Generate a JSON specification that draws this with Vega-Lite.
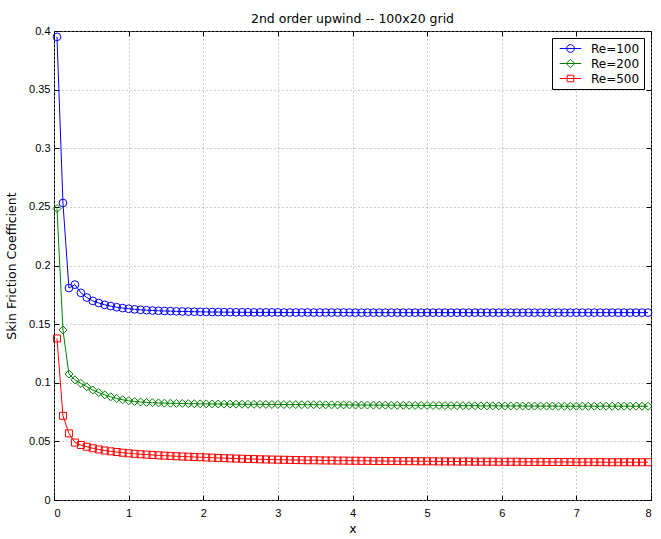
{
  "$schema": "https://vega.github.io/schema/vega-lite/v6.json",
  "autosize": {"type": "none"},
  "padding": {"left": 54, "top": 31, "right": 10, "bottom": 39},
  "width": 597,
  "height": 469,
  "background": "white",
  "title": {
    "text": "2nd order upwind -- 100x20 grid",
    "font": "DejaVu Sans",
    "fontSize": 12.5,
    "fontWeight": "normal",
    "anchor": "middle",
    "offset": 0,
    "dy": 0,
    "color": "black"
  },
  "config": {
    "font": "Liberation Sans",
    "view": {"stroke": "black", "strokeWidth": 1},
    "axis": {
      "labelFont": "Liberation Sans",
      "labelFontSize": 11,
      "labelColor": "black",
      "titleFont": "DejaVu Sans",
      "titleFontSize": 12.5,
      "titleFontWeight": "normal",
      "titleColor": "black",
      "domain": false,
      "tickColor": "black",
      "tickSize": -5,
      "gridColor": "#9a9a9a",
      "gridDash": [1, 3],
      "gridWidth": 1
    }
  },
  "data": {
    "values": [
      {"x": 0.04, "Re=100": 0.395, "Re=200": 0.2486, "Re=500": 0.1378},
      {"x": 0.12, "Re=100": 0.2533, "Re=200": 0.145, "Re=500": 0.0718},
      {"x": 0.2, "Re=100": 0.1808, "Re=200": 0.1074, "Re=500": 0.0568},
      {"x": 0.28, "Re=100": 0.1837, "Re=200": 0.1025, "Re=500": 0.049},
      {"x": 0.36, "Re=100": 0.1767, "Re=200": 0.0994, "Re=500": 0.0469},
      {"x": 0.44, "Re=100": 0.1727, "Re=200": 0.0966, "Re=500": 0.0454},
      {"x": 0.52, "Re=100": 0.1698, "Re=200": 0.0938, "Re=500": 0.0441},
      {"x": 0.6, "Re=100": 0.168, "Re=200": 0.0916, "Re=500": 0.0431},
      {"x": 0.68, "Re=100": 0.1665, "Re=200": 0.0897, "Re=500": 0.0422},
      {"x": 0.76, "Re=100": 0.1654, "Re=200": 0.088, "Re=500": 0.0415},
      {"x": 0.84, "Re=100": 0.1644, "Re=200": 0.0866, "Re=500": 0.0409},
      {"x": 0.92, "Re=100": 0.1637, "Re=200": 0.0855, "Re=500": 0.0403},
      {"x": 1.0, "Re=100": 0.1631, "Re=200": 0.0846, "Re=500": 0.0398},
      {"x": 1.08, "Re=100": 0.1626, "Re=200": 0.084, "Re=500": 0.0394},
      {"x": 1.16, "Re=100": 0.1622, "Re=200": 0.0836, "Re=500": 0.039},
      {"x": 1.24, "Re=100": 0.1619, "Re=200": 0.0832, "Re=500": 0.0387},
      {"x": 1.32, "Re=100": 0.1616, "Re=200": 0.083, "Re=500": 0.0384},
      {"x": 1.4, "Re=100": 0.1614, "Re=200": 0.0828, "Re=500": 0.0381},
      {"x": 1.48, "Re=100": 0.1612, "Re=200": 0.0826, "Re=500": 0.0378},
      {"x": 1.56, "Re=100": 0.1611, "Re=200": 0.0825, "Re=500": 0.0376},
      {"x": 1.64, "Re=100": 0.1609, "Re=200": 0.0824, "Re=500": 0.0373},
      {"x": 1.72, "Re=100": 0.1608, "Re=200": 0.0823, "Re=500": 0.0371},
      {"x": 1.8, "Re=100": 0.1607, "Re=200": 0.0822, "Re=500": 0.0369},
      {"x": 1.88, "Re=100": 0.1606, "Re=200": 0.0821, "Re=500": 0.0367},
      {"x": 1.96, "Re=100": 0.1605, "Re=200": 0.082, "Re=500": 0.0365},
      {"x": 2.04, "Re=100": 0.1604, "Re=200": 0.082, "Re=500": 0.0363},
      {"x": 2.12, "Re=100": 0.1603, "Re=200": 0.0819, "Re=500": 0.0361},
      {"x": 2.2, "Re=100": 0.1603, "Re=200": 0.0819, "Re=500": 0.0359},
      {"x": 2.28, "Re=100": 0.1602, "Re=200": 0.0818, "Re=500": 0.0357},
      {"x": 2.36, "Re=100": 0.1602, "Re=200": 0.0818, "Re=500": 0.0355},
      {"x": 2.44, "Re=100": 0.1601, "Re=200": 0.0817, "Re=500": 0.0353},
      {"x": 2.52, "Re=100": 0.1601, "Re=200": 0.0817, "Re=500": 0.0352},
      {"x": 2.6, "Re=100": 0.1601, "Re=200": 0.0816, "Re=500": 0.035},
      {"x": 2.68, "Re=100": 0.16, "Re=200": 0.0816, "Re=500": 0.0349},
      {"x": 2.76, "Re=100": 0.16, "Re=200": 0.0816, "Re=500": 0.0347},
      {"x": 2.84, "Re=100": 0.16, "Re=200": 0.0815, "Re=500": 0.0346},
      {"x": 2.92, "Re=100": 0.16, "Re=200": 0.0815, "Re=500": 0.0345},
      {"x": 3.0, "Re=100": 0.16, "Re=200": 0.0815, "Re=500": 0.0344},
      {"x": 3.08, "Re=100": 0.1599, "Re=200": 0.0814, "Re=500": 0.0343},
      {"x": 3.16, "Re=100": 0.1599, "Re=200": 0.0814, "Re=500": 0.0342},
      {"x": 3.24, "Re=100": 0.1599, "Re=200": 0.0814, "Re=500": 0.0341},
      {"x": 3.32, "Re=100": 0.1599, "Re=200": 0.0813, "Re=500": 0.034},
      {"x": 3.4, "Re=100": 0.1599, "Re=200": 0.0813, "Re=500": 0.0339},
      {"x": 3.48, "Re=100": 0.1599, "Re=200": 0.0813, "Re=500": 0.0339},
      {"x": 3.56, "Re=100": 0.1599, "Re=200": 0.0812, "Re=500": 0.0338},
      {"x": 3.64, "Re=100": 0.1599, "Re=200": 0.0812, "Re=500": 0.0337},
      {"x": 3.72, "Re=100": 0.1599, "Re=200": 0.0812, "Re=500": 0.0337},
      {"x": 3.8, "Re=100": 0.1599, "Re=200": 0.0811, "Re=500": 0.0336},
      {"x": 3.88, "Re=100": 0.1599, "Re=200": 0.0811, "Re=500": 0.0336},
      {"x": 3.96, "Re=100": 0.1599, "Re=200": 0.0811, "Re=500": 0.0335},
      {"x": 4.04, "Re=100": 0.1598, "Re=200": 0.081, "Re=500": 0.0335},
      {"x": 4.12, "Re=100": 0.1598, "Re=200": 0.081, "Re=500": 0.0334},
      {"x": 4.2, "Re=100": 0.1598, "Re=200": 0.081, "Re=500": 0.0334},
      {"x": 4.28, "Re=100": 0.1598, "Re=200": 0.0809, "Re=500": 0.0333},
      {"x": 4.36, "Re=100": 0.1598, "Re=200": 0.0809, "Re=500": 0.0333},
      {"x": 4.44, "Re=100": 0.1598, "Re=200": 0.0809, "Re=500": 0.0332},
      {"x": 4.52, "Re=100": 0.1598, "Re=200": 0.0808, "Re=500": 0.0332},
      {"x": 4.6, "Re=100": 0.1598, "Re=200": 0.0808, "Re=500": 0.0332},
      {"x": 4.68, "Re=100": 0.1598, "Re=200": 0.0808, "Re=500": 0.0331},
      {"x": 4.76, "Re=100": 0.1598, "Re=200": 0.0807, "Re=500": 0.0331},
      {"x": 4.84, "Re=100": 0.1598, "Re=200": 0.0807, "Re=500": 0.0331},
      {"x": 4.92, "Re=100": 0.1598, "Re=200": 0.0807, "Re=500": 0.033},
      {"x": 5.0, "Re=100": 0.1598, "Re=200": 0.0806, "Re=500": 0.033},
      {"x": 5.08, "Re=100": 0.1598, "Re=200": 0.0806, "Re=500": 0.033},
      {"x": 5.16, "Re=100": 0.1598, "Re=200": 0.0806, "Re=500": 0.0329},
      {"x": 5.24, "Re=100": 0.1598, "Re=200": 0.0805, "Re=500": 0.0329},
      {"x": 5.32, "Re=100": 0.1598, "Re=200": 0.0805, "Re=500": 0.0329},
      {"x": 5.4, "Re=100": 0.1598, "Re=200": 0.0805, "Re=500": 0.0328},
      {"x": 5.48, "Re=100": 0.1598, "Re=200": 0.0804, "Re=500": 0.0328},
      {"x": 5.56, "Re=100": 0.1598, "Re=200": 0.0804, "Re=500": 0.0328},
      {"x": 5.64, "Re=100": 0.1598, "Re=200": 0.0804, "Re=500": 0.0327},
      {"x": 5.72, "Re=100": 0.1598, "Re=200": 0.0803, "Re=500": 0.0327},
      {"x": 5.8, "Re=100": 0.1598, "Re=200": 0.0803, "Re=500": 0.0327},
      {"x": 5.88, "Re=100": 0.1598, "Re=200": 0.0803, "Re=500": 0.0327},
      {"x": 5.96, "Re=100": 0.1598, "Re=200": 0.0803, "Re=500": 0.0326},
      {"x": 6.04, "Re=100": 0.1598, "Re=200": 0.0802, "Re=500": 0.0326},
      {"x": 6.12, "Re=100": 0.1598, "Re=200": 0.0802, "Re=500": 0.0326},
      {"x": 6.2, "Re=100": 0.1598, "Re=200": 0.0802, "Re=500": 0.0326},
      {"x": 6.28, "Re=100": 0.1598, "Re=200": 0.0802, "Re=500": 0.0325},
      {"x": 6.36, "Re=100": 0.1598, "Re=200": 0.0801, "Re=500": 0.0325},
      {"x": 6.44, "Re=100": 0.1598, "Re=200": 0.0801, "Re=500": 0.0325},
      {"x": 6.52, "Re=100": 0.1598, "Re=200": 0.0801, "Re=500": 0.0325},
      {"x": 6.6, "Re=100": 0.1598, "Re=200": 0.0801, "Re=500": 0.0324},
      {"x": 6.68, "Re=100": 0.1598, "Re=200": 0.0801, "Re=500": 0.0324},
      {"x": 6.76, "Re=100": 0.1598, "Re=200": 0.08, "Re=500": 0.0324},
      {"x": 6.84, "Re=100": 0.1598, "Re=200": 0.08, "Re=500": 0.0324},
      {"x": 6.92, "Re=100": 0.1598, "Re=200": 0.08, "Re=500": 0.0324},
      {"x": 7.0, "Re=100": 0.1598, "Re=200": 0.08, "Re=500": 0.0323},
      {"x": 7.08, "Re=100": 0.1598, "Re=200": 0.08, "Re=500": 0.0323},
      {"x": 7.16, "Re=100": 0.1598, "Re=200": 0.08, "Re=500": 0.0323},
      {"x": 7.24, "Re=100": 0.1598, "Re=200": 0.08, "Re=500": 0.0323},
      {"x": 7.32, "Re=100": 0.1598, "Re=200": 0.08, "Re=500": 0.0323},
      {"x": 7.4, "Re=100": 0.1598, "Re=200": 0.08, "Re=500": 0.0322},
      {"x": 7.48, "Re=100": 0.1598, "Re=200": 0.08, "Re=500": 0.0322},
      {"x": 7.56, "Re=100": 0.1598, "Re=200": 0.08, "Re=500": 0.0322},
      {"x": 7.64, "Re=100": 0.1598, "Re=200": 0.08, "Re=500": 0.0322},
      {"x": 7.72, "Re=100": 0.1598, "Re=200": 0.08, "Re=500": 0.0322},
      {"x": 7.8, "Re=100": 0.1598, "Re=200": 0.08, "Re=500": 0.0322},
      {"x": 7.88, "Re=100": 0.1598, "Re=200": 0.08, "Re=500": 0.0322},
      {"x": 7.96, "Re=100": 0.1598, "Re=200": 0.08, "Re=500": 0.0322}
    ]
  },
  "transform": [
    {"fold": ["Re=100", "Re=200", "Re=500"], "as": ["series", "cf"]}
  ],
  "encoding": {
    "x": {"field": "x", "type": "quantitative", "scale": {"domain": [0, 8], "nice": false}},
    "y": {"field": "cf", "type": "quantitative", "scale": {"domain": [0, 0.4], "nice": false}},
    "color": {
      "field": "series",
      "type": "nominal",
      "scale": {
        "domain": ["Re=100", "Re=200", "Re=500"],
        "range": ["#0000ff", "#008000", "#ff0000"]
      }
    }
  },
  "layer": [
    {
      "mark": {"type": "line", "strokeWidth": 1, "clip": true},
      "encoding": {
        "x": {
          "field": "x",
          "type": "quantitative",
          "axis": {
            "orient": "bottom",
            "values": [0, 1, 2, 3, 4, 5, 6, 7, 8],
            "labelPadding": 12,
            "title": "x",
            "titlePadding": 4
          }
        },
        "y": {
          "field": "cf",
          "type": "quantitative",
          "axis": {
            "orient": "left",
            "values": [0, 0.05, 0.1, 0.15, 0.2, 0.25, 0.3, 0.35, 0.4],
            "format": ".2~f",
            "labelPadding": 9,
            "title": "Skin Friction Coefficient",
            "titlePadding": 10
          }
        }
      }
    },
    {
      "transform": [{"filter": "datum.series === 'Re=100'"}],
      "mark": {"type": "point", "shape": "circle", "filled": false, "size": 60, "strokeWidth": 1, "opacity": 1},
      "encoding": {
        "x": {
          "field": "x",
          "type": "quantitative",
          "axis": {
            "orient": "top",
            "values": [0, 1, 2, 3, 4, 5, 6, 7, 8],
            "labels": false,
            "grid": false,
            "title": null
          }
        },
        "y": {
          "field": "cf",
          "type": "quantitative",
          "axis": {
            "orient": "right",
            "values": [0, 0.05, 0.1, 0.15, 0.2, 0.25, 0.3, 0.35, 0.4],
            "labels": false,
            "grid": false,
            "title": null
          }
        }
      }
    },
    {
      "transform": [{"filter": "datum.series === 'Re=200'"}],
      "mark": {"type": "point", "shape": "diamond", "filled": false, "size": 64, "strokeWidth": 1, "opacity": 1},
      "encoding": {
        "x": {"field": "x", "type": "quantitative", "axis": null},
        "y": {"field": "cf", "type": "quantitative", "axis": null}
      }
    },
    {
      "transform": [{"filter": "datum.series === 'Re=500'"}],
      "mark": {"type": "point", "shape": "square", "filled": false, "size": 49, "strokeWidth": 1, "opacity": 1},
      "encoding": {
        "x": {"field": "x", "type": "quantitative", "axis": null},
        "y": {"field": "cf", "type": "quantitative", "axis": null}
      }
    },
    {
      "mark": {"type": "point", "filled": false, "size": 0, "opacity": 0},
      "encoding": {
        "x": {"field": "x", "type": "quantitative", "axis": null},
        "y": {"field": "cf", "type": "quantitative", "axis": null},
        "shape": {
          "field": "series",
          "type": "nominal",
          "scale": {
            "domain": ["Re=100", "Re=200", "Re=500"],
            "range": [
              "M-1.8,0L1.8,0M-0.65,0A0.65,0.65 0 1,0 0.65,0A0.65,0.65 0 1,0 -0.65,0",
              "M-1.8,0L1.8,0M-0.7,0L0,-0.7L0.7,0L0,0.7Z",
              "M-1.8,0L1.8,0M-0.55,-0.55L0.55,-0.55L0.55,0.55L-0.55,0.55Z"
            ]
          },
          "legend": {
            "orient": "none",
            "legendX": 498,
            "legendY": 7,
            "title": null,
            "padding": 4,
            "strokeColor": "black",
            "fillColor": "white",
            "labelFont": "DejaVu Sans",
            "labelFontSize": 12,
            "labelColor": "black",
            "symbolSize": 144,
            "symbolStrokeWidth": 1,
            "symbolOpacity": 1,
            "symbolFillColor": "transparent",
            "symbolOffset": 8,
            "labelOffset": 14,
            "rowPadding": 2
          }
        }
      }
    }
  ],
  "resolve": {"axis": {"x": "independent", "y": "independent"}}
}
